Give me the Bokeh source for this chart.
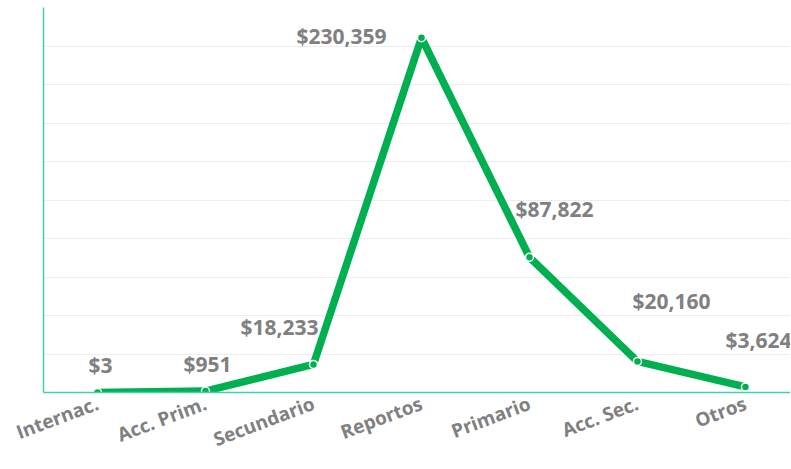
from bokeh.plotting import figure
from bokeh.models import ColumnDataSource, SingleIntervalTicker, Range1d, FixedTicker
from bokeh.core.properties import value
from bokeh.embed import file_html
from bokeh.resources import INLINE

categories = ["Internac.", "Acc. Prim.", "Secundario", "Reportos", "Primario", "Acc. Sec.", "Otros"]
amounts = [3, 951, 18233, 230359, 87822, 20160, 3624]
labels = ["$3", "$951", "$18,233", "$230,359", "$87,822", "$20,160", "$3,624"]

# label placement offsets (screen pixels), styling only
label_dx = [3, 2, -34, -80, 25, 34, 13]
label_dy = [-27, -27, -37, -2, -48, -60, -47]

xs = list(range(len(categories)))
src = ColumnDataSource(dict(x=xs, y=amounts, lab=labels, dx=label_dx, dy=label_dy))

GREEN = "#00B050"
TEAL = "#45CDB0"
GRAY = "#808080"

p = figure(width=790, height=467, output_backend="svg", toolbar_location=None,
           x_range=Range1d(-0.5, 6.417), y_range=Range1d(0, 250000),
           min_border_left=43, min_border_right=0, min_border_top=7, min_border_bottom=70)
p.outline_line_color = None
p.background_fill_color = "white"

p.line("x", "y", source=src, line_color=GREEN, line_width=7.5, line_join="round")
p.scatter("x", "y", source=src, size=8, fill_color=GREEN, line_color="white", line_width=1.5)
p.text("x", "y", text="lab", source=src, x_offset="dx", y_offset="dy",
       text_align="center", text_baseline="middle", text_color=GRAY,
       text_font=value("Open Sans"), text_font_style="bold", text_font_size="21px")

p.xaxis.ticker = FixedTicker(ticks=xs)
p.xaxis.major_label_overrides = {i: c for i, c in enumerate(categories)}
p.xaxis.major_label_orientation = 0.36
p.xaxis.major_label_text_font = "Open Sans"
p.xaxis.major_label_text_font_style = "bold"
p.xaxis.major_label_text_font_size = "19px"
p.xaxis.major_label_text_color = GRAY
p.xaxis.major_tick_line_color = None
p.xaxis.minor_tick_line_color = None
p.xaxis.axis_line_color = TEAL
p.xaxis.axis_line_width = 1.5
p.xaxis.major_label_standoff = 4

p.yaxis.ticker = FixedTicker(ticks=[])
p.yaxis.major_tick_line_color = None
p.yaxis.minor_tick_line_color = None
p.yaxis.axis_line_color = TEAL
p.yaxis.axis_line_width = 1.5

p.xgrid.grid_line_color = None
p.ygrid.ticker = SingleIntervalTicker(interval=25000)
p.ygrid.grid_line_color = "#EDEDED"
p.ygrid.grid_line_width = 1

open("out.html", "w").write(file_html(p, INLINE))
